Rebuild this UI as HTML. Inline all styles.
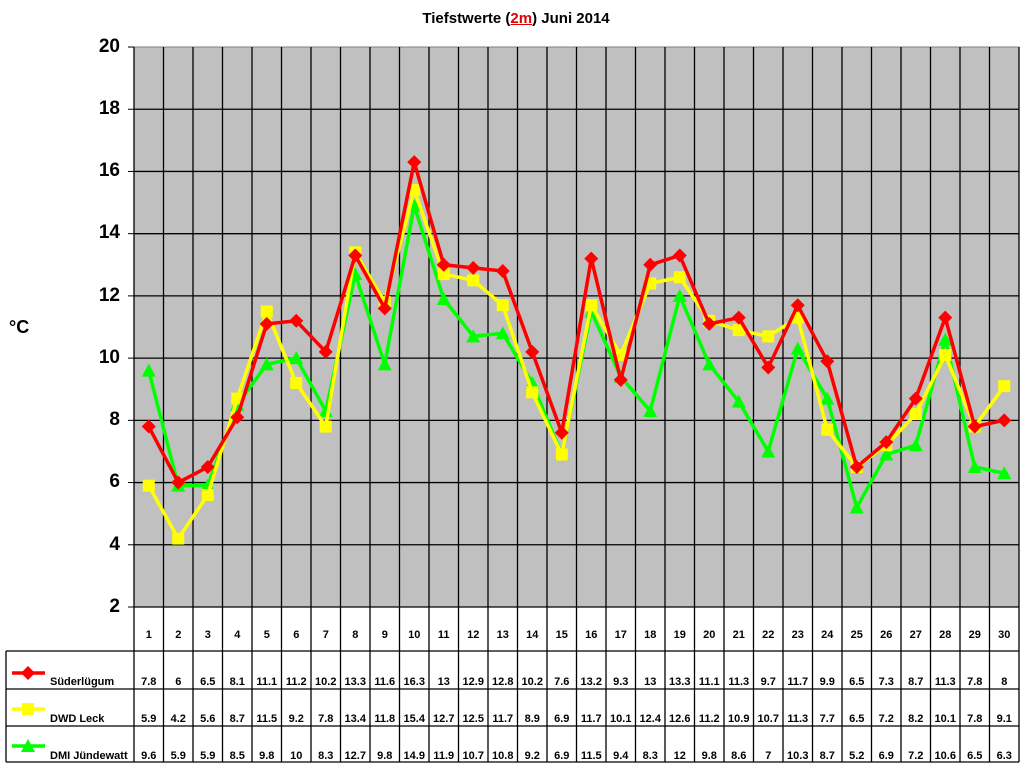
<!DOCTYPE html>
<html><head><meta charset="utf-8"><style>
body{margin:0;background:#fff;width:1024px;height:768px;overflow:hidden;position:relative;font-family:"Liberation Sans",Arial,sans-serif;font-weight:bold}
.row{position:absolute;left:134px;width:885px;display:flex;font-size:11px;color:#000}
.row span{flex:1;text-align:center}
.lab{position:absolute;left:50px;font-size:11px}
.yl{position:absolute;right:904px;font-size:19px;line-height:20px}
</style></head><body>
<svg id="s" width="1024" height="768" style="position:absolute;left:0;top:0">
<rect x="134" y="47" width="885" height="560" fill="#c0c0c0" stroke="#808080" stroke-width="1"/>
</svg>
<div style="position:absolute;top:10px;left:0;width:1032px;text-align:center;font-size:15px">Tiefstwerte (<span style="color:#e00000;text-decoration:underline">2m</span>) Juni 2014</div>
<div style="position:absolute;left:9px;top:317px;font-size:18px">°C</div>
<div class="yl" style="top:37px">20</div>
<div class="yl" style="top:99px">18</div>
<div class="yl" style="top:161px">16</div>
<div class="yl" style="top:223px">14</div>
<div class="yl" style="top:286px">12</div>
<div class="yl" style="top:348px">10</div>
<div class="yl" style="top:410px">8</div>
<div class="yl" style="top:472px">6</div>
<div class="yl" style="top:535px">4</div>
<div class="yl" style="top:597px">2</div>
<div class="row" style="top:629px"><span>1</span><span>2</span><span>3</span><span>4</span><span>5</span><span>6</span><span>7</span><span>8</span><span>9</span><span>10</span><span>11</span><span>12</span><span>13</span><span>14</span><span>15</span><span>16</span><span>17</span><span>18</span><span>19</span><span>20</span><span>21</span><span>22</span><span>23</span><span>24</span><span>25</span><span>26</span><span>27</span><span>28</span><span>29</span><span>30</span></div>
<div class="row" style="top:676px"><span>7.8</span><span>6</span><span>6.5</span><span>8.1</span><span>11.1</span><span>11.2</span><span>10.2</span><span>13.3</span><span>11.6</span><span>16.3</span><span>13</span><span>12.9</span><span>12.8</span><span>10.2</span><span>7.6</span><span>13.2</span><span>9.3</span><span>13</span><span>13.3</span><span>11.1</span><span>11.3</span><span>9.7</span><span>11.7</span><span>9.9</span><span>6.5</span><span>7.3</span><span>8.7</span><span>11.3</span><span>7.8</span><span>8</span></div>
<div class="row" style="top:713px"><span>5.9</span><span>4.2</span><span>5.6</span><span>8.7</span><span>11.5</span><span>9.2</span><span>7.8</span><span>13.4</span><span>11.8</span><span>15.4</span><span>12.7</span><span>12.5</span><span>11.7</span><span>8.9</span><span>6.9</span><span>11.7</span><span>10.1</span><span>12.4</span><span>12.6</span><span>11.2</span><span>10.9</span><span>10.7</span><span>11.3</span><span>7.7</span><span>6.5</span><span>7.2</span><span>8.2</span><span>10.1</span><span>7.8</span><span>9.1</span></div>
<div class="row" style="top:750px"><span>9.6</span><span>5.9</span><span>5.9</span><span>8.5</span><span>9.8</span><span>10</span><span>8.3</span><span>12.7</span><span>9.8</span><span>14.9</span><span>11.9</span><span>10.7</span><span>10.8</span><span>9.2</span><span>6.9</span><span>11.5</span><span>9.4</span><span>8.3</span><span>12</span><span>9.8</span><span>8.6</span><span>7</span><span>10.3</span><span>8.7</span><span>5.2</span><span>6.9</span><span>7.2</span><span>10.6</span><span>6.5</span><span>6.3</span></div>
<div class="lab" style="top:676px">Süderlügum</div>
<div class="lab" style="top:713px">DWD Leck</div>
<div class="lab" style="top:750px">DMI Jündewatt</div>
<script>
var s=document.getElementById('s'),NS='http://www.w3.org/2000/svg';
function el(t,a){var e=document.createElementNS(NS,t);for(var k in a)e.setAttribute(k,a[k]);s.appendChild(e);return e}
function Y(v){return 607-(v-2)*31.11}
function X(i){return 134+29.5*(i-0.5)}
for(var v=4;v<=18;v+=2)el('line',{x1:134,x2:1019,y1:Y(v),y2:Y(v),stroke:'#000','stroke-width':1.3});
for(v=2;v<=20;v+=2)el('line',{x1:128,x2:134,y1:Y(v),y2:Y(v),stroke:'#000'});
for(var i=0;i<=30;i++){var x=134+29.5*i;el('line',{x1:x,x2:x,y1:47,y2:762,stroke:'#000','stroke-width':1.3});}
el('line',{x1:134,x2:1019,y1:607,y2:607,stroke:'#000','stroke-width':1.3});
[651,689,726,762].forEach(function(y){el('line',{x1:6,x2:1019,y1:y,y2:y,stroke:'#000','stroke-width':1.3})});
el('line',{x1:6,x2:6,y1:651,y2:762,stroke:'#000','stroke-width':1.3});
var A=[7.8,6,6.5,8.1,11.1,11.2,10.2,13.3,11.6,16.3,13,12.9,12.8,10.2,7.6,13.2,9.3,13,13.3,11.1,11.3,9.7,11.7,9.9,6.5,7.3,8.7,11.3,7.8,8];
var B=[5.9,4.2,5.6,8.7,11.5,9.2,7.8,13.4,11.8,15.4,12.7,12.5,11.7,8.9,6.9,11.7,10.1,12.4,12.6,11.2,10.9,10.7,11.3,7.7,6.5,7.2,8.2,10.1,7.8,9.1];
var C=[9.6,5.9,5.9,8.5,9.8,10,8.3,12.7,9.8,14.9,11.9,10.7,10.8,9.2,6.9,11.5,9.4,8.3,12,9.8,8.6,7,10.3,8.7,5.2,6.9,7.2,10.6,6.5,6.3];
function mk(t,x,y,c){if(t==0)el('polygon',{points:(x)+','+(y-7)+' '+(x+7)+','+y+' '+x+','+(y+7)+' '+(x-7)+','+y,fill:c});
else if(t==1)el('rect',{x:x-6,y:y-6,width:12,height:12,fill:c});
else el('polygon',{points:x+','+(y-7)+' '+(x+7)+','+(y+6)+' '+(x-7)+','+(y+6),fill:c});}
function series(d,c,t){el('polyline',{points:d.map(function(v,i){return X(i+1)+','+Y(v)}).join(' '),fill:'none',stroke:c,'stroke-width':3.5});d.forEach(function(v,i){mk(t,X(i+1),Y(v),c)});}
series(C,'#00ff00',2);series(B,'#ffff00',1);series(A,'#ff0000',0);
[[673,'#ff0000',0],[709,'#ffff00',1],[746,'#00ff00',2]].forEach(function(r){el('line',{x1:12,x2:45,y1:r[0],y2:r[0],stroke:r[1],'stroke-width':3.5});mk(r[2],28,r[0],r[1]);});
</script>
</body></html>
